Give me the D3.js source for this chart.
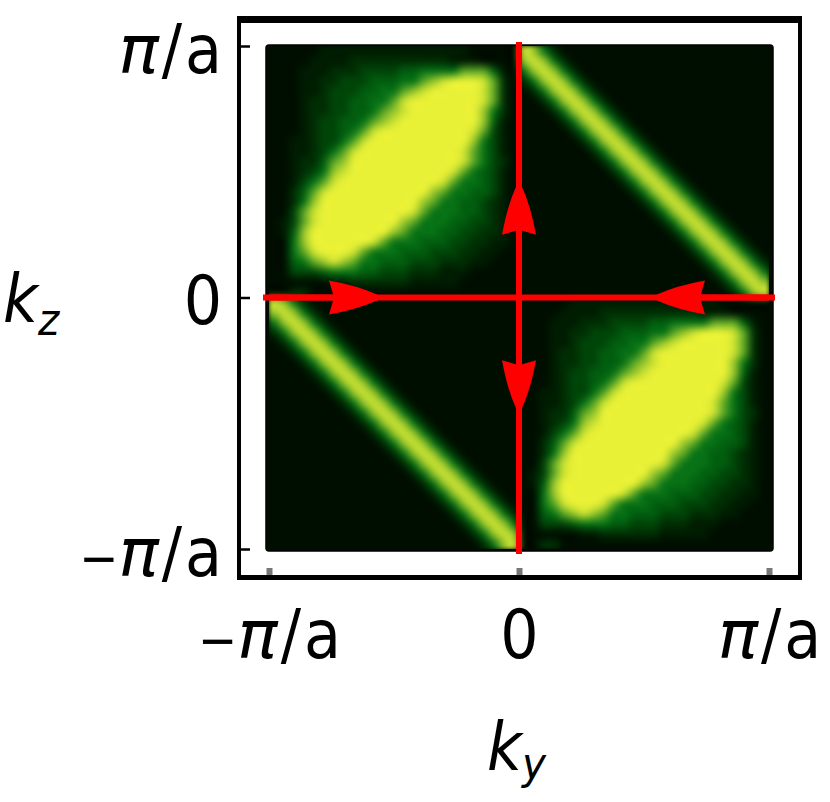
<!DOCTYPE html>
<html>
<head>
<meta charset="utf-8">
<script src="https://cdn.jsdelivr.net/npm/d3@7"></script>
<style>
  html, body { margin: 0; background: #fff; }
  svg { display: block; }
  text { font-family: "DejaVu Sans Condensed", "DejaVu Sans", sans-serif; fill: #000; }
</style>
</head>
<body>
<div id="chart"></div>
<script>
// axis ticks, in units of pi/a
const tickValues = [-1, 0, 1];
const tickLabels = ['−π/a', '0', 'π/a'];

// intensity levels 0-9, one quadrant per block (25 x 25)
const lobeRows = [
  '0000011111111111111100000',
  '0000111122222222221110000',
  '0001112223333445555666410',
  '0001122333444556789998620',
  '0001123334455678999998620',
  '0001223344556899999998620',
  '0001223344567899999997520',
  '0001233445678999999997410',
  '0001233456899999999986310',
  '0011233568999999999975310',
  '0011235689999999999865310',
  '0012246799999999999865320',
  '0012357899999999998654310',
  '0013568999999999986554310',
  '0024689999999999765544310',
  '0025799999999997655443210',
  '0036899999999986555443210',
  '0136899999999765554433210',
  '0147999999997655544332210',
  '0057999999865554443322110',
  '0056899986555444333221100',
  '0045678765544433322211000',
  '0033345554433322211100000',
  '0000001122222211111000000',
  '0022000000000000000000000'
];
const bandRows = [
  '8752000000000000000000000',
  '7875200000000000000000000',
  '5787520000000000000000000',
  '2578752000000000000000000',
  '0257875200000000000000000',
  '0025787520000000000000000',
  '0002578752000000000000000',
  '0000257875200000000000000',
  '0000025787520000000000000',
  '0000002578752000000000000',
  '0000000257875200000000000',
  '0000000025787520000000000',
  '0000000002578752000000000',
  '0000000000257875200000000',
  '0000000000025787520000000',
  '0000000000002578752000000',
  '0000000000000257875200000',
  '0000000000000025787520000',
  '0000000000000002578752000',
  '0000000000000000257875200',
  '0000000000000000025787520',
  '0000000000000000002578752',
  '0000000000000000000257875',
  '0000000000000000000025787',
  '0000000000000000000002578'
];

const levelColors = ['#000e00', '#001c01', '#002e03', '#004508', '#025e0f',
  '#087216', '#5ba626', '#98c52c', '#cce232', '#e9f136'];

// red lines and arrows, as [from, to] in units of pi/a
const axisLines = [
  [[-1.024, 0], [1.024, 0]],
  [[0, -1.02], [0, 1.016]]
];
const arrows = [
  [[-1, 0], [-0.568, 0]],
  [[1, 0], [0.552, 0]],
  [[0, 0], [0, 0.44]],
  [[0, 0], [0, -0.44]]
];

const width = 830;
const height = 802;

const x = d3.scaleLinear().domain([-1, 1]).range([269, 769]);
const y = d3.scaleLinear().domain([-1, 1]).range([549, 46]);
const color = d3.scaleLinear().domain(d3.range(10)).range(levelColors);

const svg = d3.select('#chart').append('svg')
  .attr('width', width)
  .attr('height', height);

// Frame
svg.append('rect').attr('x', 237).attr('y', 16).attr('width', 565).attr('height', 564).attr('fill', '#000');
svg.append('rect').attr('x', 241).attr('y', 23).attr('width', 557).attr('height', 552).attr('fill', '#fff');

// Density image: small canvas from the levels, scaled up smooth
const rows = d3.range(50).map(r => {
  const top = r < 25;
  const row = top ? r : r - 25;
  return top ? lobeRows[row] + bandRows[row] : bandRows[row] + lobeRows[row];
});

const small = document.createElement('canvas');
small.width = 50;
small.height = 50;
const sctx = small.getContext('2d');
rows.forEach((row, r) => {
  row.split('').forEach((v, c) => {
    sctx.fillStyle = color(+v);
    sctx.fillRect(c, r, 1, 1);
  });
});

const plotW = x(1) - x(-1);
const plotH = y(-1) - y(1);
const big = document.createElement('canvas');
big.width = plotW;
big.height = plotH;
const bctx = big.getContext('2d');
bctx.fillStyle = levelColors[0];
bctx.fillRect(0, 0, plotW, plotH);
bctx.imageSmoothingEnabled = true;
bctx.imageSmoothingQuality = 'high';
bctx.filter = 'blur(2px)';
bctx.drawImage(small, 0, 0, plotW, plotH);

svg.append('rect')
  .attr('x', x(-1) - 3).attr('y', y(1) - 1)
  .attr('width', plotW + 7).attr('height', plotH + 3)
  .attr('rx', 3)
  .attr('fill', levelColors[0])
  .attr('stroke', '#000')
  .attr('stroke-width', 1.5);

svg.append('image')
  .attr('x', x(-1)).attr('y', y(1))
  .attr('width', plotW).attr('height', plotH)
  .attr('href', big.toDataURL());

// Axes
const fontSize = 67;
const tickText = (g) => {
  g.selectAll('text').each(function (d, i) {
    const t = d3.select(this);
    const label = tickLabels[i];
    t.text(null).style('font-size', fontSize + 'px');
    if (label === '0') {
      t.append('tspan').text(label);
    } else {
      if (label[0] === '−') t.append('tspan').style('font-size', '52px').text('−');
      t.append('tspan').attr('font-style', 'italic').style('font-family', '"DejaVu Sans"').text('π');
      t.append('tspan').attr('dx', 3).text('/');
      t.append('tspan').attr('dx', 3).text('a');
    }
  });
};

const gy = svg.append('g')
  .attr('transform', 'translate(241,0)')
  .call(d3.axisLeft(y).tickValues(tickValues).tickSize(-9).tickPadding(19));
gy.select('.domain').remove();
gy.selectAll('line').attr('stroke', '#000').attr('stroke-width', 2.5);
gy.call(tickText);
gy.selectAll('text').attr('dy', null).attr('y', 26);

const gx = svg.append('g')
  .attr('transform', 'translate(0,575)')
  .call(d3.axisBottom(x).tickValues(tickValues).tickSize(-7).tickPadding(83));
gx.select('.domain').remove();
gx.selectAll('line').attr('stroke', '#777').attr('stroke-width', 6);
gx.call(tickText);
gx.selectAll('text').attr('dy', null);

// Red cross and arrows
const line = d3.line().x(d => x(d[0])).y(d => y(d[1]));

svg.append('defs').append('marker')
  .attr('id', 'head')
  .attr('markerUnits', 'userSpaceOnUse')
  .attr('viewBox', '0 -18 49 36')
  .attr('refX', 48).attr('refY', 0)
  .attr('markerWidth', 49).attr('markerHeight', 36)
  .attr('orient', 'auto')
  .append('path')
  .attr('d', 'M0,-17Q28,-12 48,-3L48,3Q28,12 0,17L5,0Z')
  .attr('fill', '#f00');

svg.append('g').selectAll('path')
  .data(axisLines)
  .join('path')
  .attr('d', line)
  .attr('fill', 'none')
  .attr('stroke', '#f00')
  .attr('stroke-width', 6);

svg.append('g').selectAll('path')
  .data(arrows)
  .join('path')
  .attr('d', line)
  .attr('fill', 'none')
  .attr('stroke', '#f00')
  .attr('stroke-width', 6)
  .attr('marker-end', 'url(#head)');

// Axis titles
const kz = svg.append('text').attr('x', 3).attr('y', 323).attr('font-style', 'italic').style('font-size', '67px');
kz.append('tspan').text('k');
kz.append('tspan').attr('dy', 12).style('font-size', '45px').text('z');

const ky = svg.append('text').attr('x', 487).attr('y', 771).attr('font-style', 'italic').style('font-size', '67px');
ky.append('tspan').text('k');
ky.append('tspan').attr('dy', 8).style('font-size', '45px').text('y');
</script>
</body>
</html>
